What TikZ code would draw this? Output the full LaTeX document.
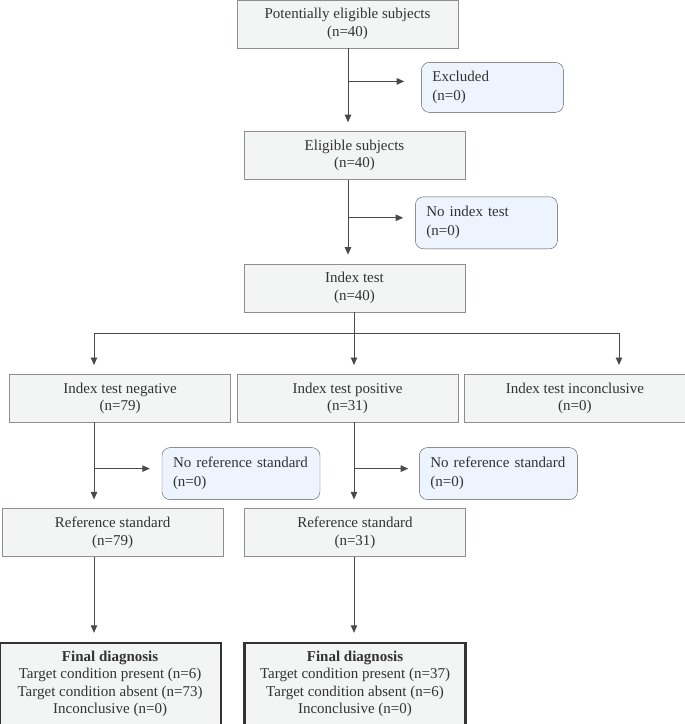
\documentclass[tikz,border=0pt]{standalone}
\usepackage{fontspec}
\setmainfont{Liberation Serif}
\usetikzlibrary{arrows.meta,positioning}
\definecolor{BoxFill}{HTML}{F3F4F4}
\definecolor{BoxRule}{HTML}{8E8E8E}
\definecolor{SideFill}{HTML}{EDF4FD}
\definecolor{SideRule}{HTML}{555555}
\definecolor{FinalRule}{HTML}{333333}
\definecolor{Link}{HTML}{4A4A4A}
\definecolor{Ink}{HTML}{333333}

\begin{document}
\begin{tikzpicture}[x=1pt,y=1pt,
        stepbox/.style={draw=BoxRule,fill=BoxFill,minimum width=221pt,minimum height=48pt,
          align=center,inner sep=0pt,font=\fontsize{15}{17.5}\selectfont,text=Ink},
        sidebox/.style={draw=SideRule,fill=SideFill,rounded corners=8pt,text width=#1,
          minimum height=52pt,align=left,inner xsep=11pt,inner ysep=0pt,
          font=\fontsize{15}{19}\selectfont,text=Ink},
        sidebox/.default=120pt,
        finalbox/.style={stepbox,draw=FinalRule,line width=2.2pt,minimum height=82pt},
        link/.style={draw=Link,line width=0.9pt,-{Triangle[width=6.5pt,length=7.5pt]},shorten >=9pt},
        trunk/.style={draw=Link,line width=0.9pt}]
        \useasboundingbox (0,0) rectangle (685,-724);
        % main column
        \node[stepbox] (top) at (347.5,-24) {Potentially eligible subjects\\(n=40)};
        \node[stepbox,below=83pt of top,xshift=7pt] (elig) {Eligible subjects\\(n=40)};
        \node[stepbox,below=84pt of elig] (index) {Index test\\(n=40)};
        \node[stepbox,below=62pt of index,xshift=-7pt] (pos) {Index test positive\\(n=31)};
        \node[stepbox,left=6pt of pos] (neg) {Index test negative\\(n=79)};
        \node[stepbox,right=6pt of pos] (incon) {Index test inconclusive\\(n=0)};
        \node[stepbox,below=86pt of neg,xshift=-7.5pt] (ref1) {Reference standard\\(n=79)};
        \node[stepbox,below=86pt of pos,xshift=7.5pt] (ref2) {Reference standard\\(n=31)};
        \node[finalbox,below=85pt of ref1,xshift=-2.5pt] (final1) {\textbf{Final diagnosis}\\
          Target condition present (n=6)\\Target condition absent (n=73)\\Inconclusive (n=0)};
        \node[finalbox,below=85pt of ref2] (final2) {\textbf{Final diagnosis}\\
          Target condition present (n=37)\\Target condition absent (n=6)\\Inconclusive (n=0)};
        % side boxes
        \node[sidebox,minimum height=50pt,below right=14pt and -37pt of top] (excl) {Excluded\\(n=0)};
        \node[sidebox,below right=17pt and -50pt of elig] (noindex) {No index test\\(n=0)};
        \node[sidebox=136pt,below right=25pt and -69pt of neg] (noref1) {No reference standard\\(n=0)};
        \node[sidebox=136pt,below right=25pt and -39pt of pos] (noref2) {No reference standard\\(n=0)};
        % line columns
        \coordinate (colM) at (348,0);
        \coordinate (colC) at (354,0);
        \coordinate (colL) at (94,0);
        \coordinate (colR) at (619,0);
        \coordinate (split) at (0,-333);
        % connectors
        \draw[link] (top.south -| colM) -- (elig.north -| colM);
        \draw[link] (elig.south -| colM) -- (index.north -| colM);
        \draw[trunk] (index.south -| colC) -- (split -| colC);
        \draw[trunk] (split -| colL) -- (split -| colR);
        \foreach \c/\n in {colL/neg,colC/pos,colR/incon}
          \draw[link] (split -| \c) -- (\n.north -| \c);
        \draw[link] (neg.south -| colL) -- (ref1.north -| colL);
        \draw[link] (pos.south -| colC) -- (ref2.north -| colC);
        \draw[link] (ref1.south -| colL) -- (final1.north -| colL);
        \draw[link] (ref2.south -| colC) -- (final2.north -| colC);
        \draw[link,shorten >=17pt] ([yshift=6pt]excl.west -| colM) -- ([yshift=6pt]excl.west);
        \draw[link,shorten >=12pt] ([yshift=5pt]noindex.west -| colM) -- ([yshift=5pt]noindex.west);
        \draw[link,shorten >=12pt] ([yshift=5pt]noref1.west -| colL) -- ([yshift=5pt]noref1.west);
        \draw[link,shorten >=11pt] ([yshift=5pt]noref2.west -| colC) -- ([yshift=5pt]noref2.west);
      \end{tikzpicture}
\end{document}
